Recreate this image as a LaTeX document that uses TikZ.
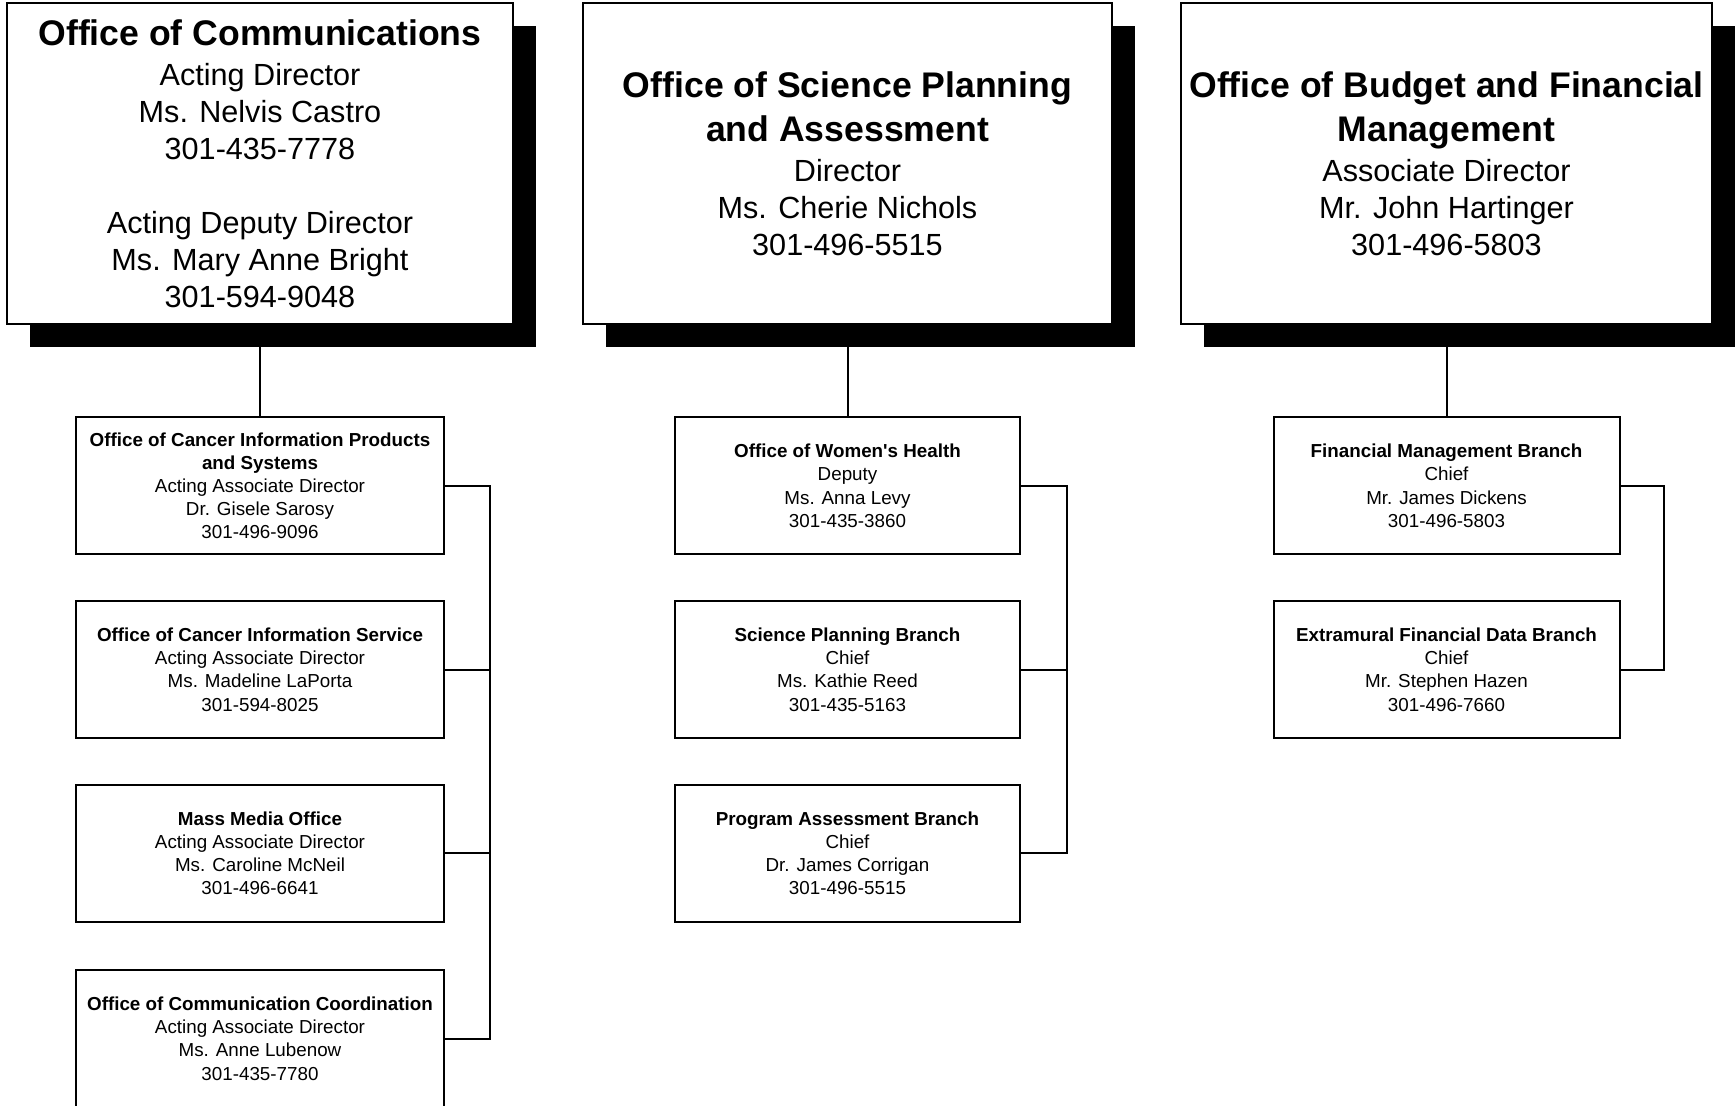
\documentclass[tikz,border=0pt]{standalone}
\usepackage{fontspec}
\setmainfont{Liberation Sans}
\usepackage{tikz}
\usetikzlibrary{shadows}
\newcommand{\headline}{\fontsize{17.8}{22}\selectfont\bfseries}

\begin{document}
\begin{tikzpicture}[x=0.5pt,y=0.5pt]
\tikzstyle{every node}+=[inner sep=0pt]
\tikzstyle{headbox}=[draw=black, line width=1pt, fill=white, align=center, minimum height=160.5pt, font=\fontsize{15.3}{18.5}\selectfont, drop shadow={shadow xshift=11.5pt, shadow yshift=-11.5pt, fill=black, opacity=1}]
\tikzstyle{unitbox}=[draw=black, line width=1pt, fill=white, align=center, minimum height=68.5pt, font=\fontsize{9.4}{11.6}\selectfont]
\tikzstyle{link}=[black, line width=1pt]
\useasboundingbox (0,0) rectangle (1735,-1105);
% directors
\node [headbox, minimum width=253pt] (comm) at (260,-163.7) {{\headline Office of Communications}\\[1.4pt] Acting Director\\ Ms. Nelvis Castro\\ 301-435-7778\\[18.5pt] Acting Deputy Director\\ Ms. Mary Anne Bright\\ 301-594-9048};
\node [headbox, minimum width=264.5pt] (spa) at (847.5,-163.7) {{\headline Office of Science Planning}\\[3.6pt] {\headline and Assessment}\\[1.4pt] Director\\ Ms. Cherie Nichols\\ 301-496-5515};
\node [headbox, minimum width=265.5pt] (bfm) at (1446.5,-163.7) {{\headline Office of Budget and Financial}\\[3.6pt] {\headline Management}\\[1.4pt] Associate Director\\ Mr. John Hartinger\\ 301-496-5803};
% communications units
\node [unitbox, minimum width=184pt] (comm1) at (260,-485.8) {\textbf{Office of Cancer Information Products}\\ \textbf{and Systems}\\ Acting Associate Director\\ Dr. Gisele Sarosy\\ 301-496-9096};
\node [unitbox, minimum width=184pt] (comm2) at (260,-669.6) {\textbf{Office of Cancer Information Service}\\ Acting Associate Director\\ Ms. Madeline LaPorta\\ 301-594-8025};
\node [unitbox, minimum width=184pt] (comm3) at (260,-853.4) {\textbf{Mass Media Office}\\ Acting Associate Director\\ Ms. Caroline McNeil\\ 301-496-6641};
\node [unitbox, minimum width=184pt] (comm4) at (260,-1038.6) {\textbf{Office of Communication Coordination}\\ Acting Associate Director\\ Ms. Anne Lubenow\\ 301-435-7780};
% science planning units
\node [unitbox, minimum width=172.5pt] (spa1) at (847.5,-485.8) {\textbf{Office of Women\textquotesingle s Health}\\ Deputy\\ Ms. Anna Levy\\ 301-435-3860};
\node [unitbox, minimum width=172.5pt] (spa2) at (847.5,-669.6) {\textbf{Science Planning Branch}\\ Chief\\ Ms. Kathie Reed\\ 301-435-5163};
\node [unitbox, minimum width=172.5pt] (spa3) at (847.5,-853.4) {\textbf{Program Assessment Branch}\\ Chief\\ Dr. James Corrigan\\ 301-496-5515};
% budget units
\node [unitbox, minimum width=173pt] (bfm1) at (1446.5,-485.8) {\textbf{Financial Management Branch}\\ Chief\\ Mr. James Dickens\\ 301-496-5803};
\node [unitbox, minimum width=173pt] (bfm2) at (1446.5,-669.6) {\textbf{Extramural Financial Data Branch}\\ Chief\\ Mr. Stephen Hazen\\ 301-496-7660};
% links
\coordinate (busA) at (490,0);
\coordinate (busB) at (1066.7,0);
\coordinate (busC) at (1664,0);
\draw [link] (comm) -- (comm1);
\draw [link] (comm1.east) -- (comm1.east -| busA) -- (comm4.east -| busA) -- (comm4.east);
\draw [link] (comm2.east) -- (comm2.east -| busA);
\draw [link] (comm3.east) -- (comm3.east -| busA);
\draw [link] (spa) -- (spa1);
\draw [link] (spa1.east) -- (spa1.east -| busB) -- (spa3.east -| busB) -- (spa3.east);
\draw [link] (spa2.east) -- (spa2.east -| busB);
\draw [link] (bfm) -- (bfm1);
\draw [link] (bfm1.east) -- (bfm1.east -| busC) -- (bfm2.east -| busC) -- (bfm2.east);
\end{tikzpicture}
\end{document}
